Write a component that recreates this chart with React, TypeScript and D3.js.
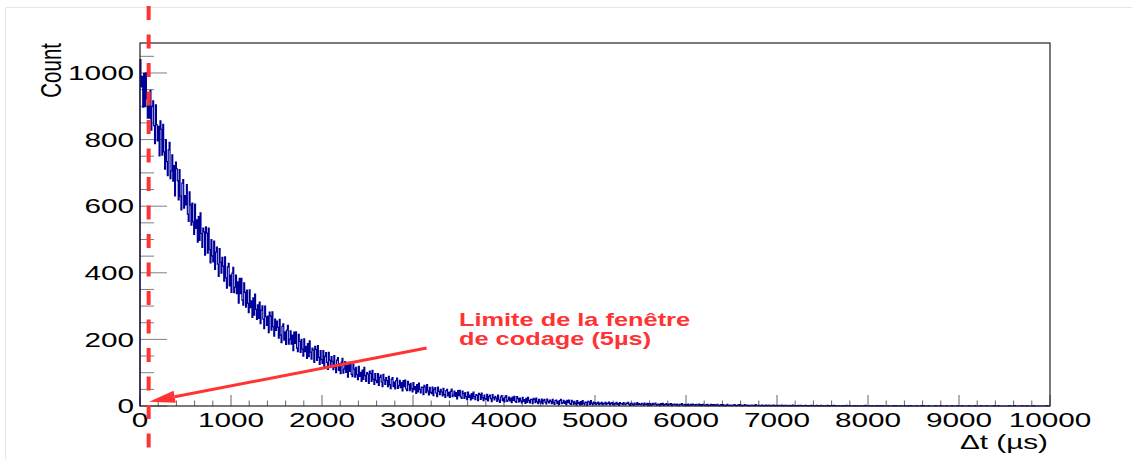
import React from 'react';
import * as d3 from 'd3';

const BIN_WIDTH = 10; // µs per bin
const X_MAX = 10000;
const Y_MAX = 1090;

// Counts per 10 µs bin (0 .. 10000 µs), one row = 100 µs
const counts: number[] = [
  1040, 958, 990, 897, 999, 899, 1000, 922, 864, 940,
  864, 948, 828, 899, 916, 842, 788, 904, 844, 796,
  840, 751, 856, 831, 753, 846, 763, 711, 799, 734,
  692, 769, 792, 683, 706, 754, 675, 722, 631, 732,
  712, 677, 619, 710, 630, 589, 669, 680, 594, 632,
  604, 665, 576, 554, 643, 604, 543, 609, 553, 515,
  606, 533, 559, 492, 569, 497, 580, 518, 476, 534,
  523, 453, 538, 519, 459, 534, 470, 430, 500, 451,
  433, 495, 410, 462, 477, 426, 389, 473, 432, 399,
  446, 420, 375, 448, 385, 354, 418, 428, 361, 393,
  341, 399, 416, 340, 357, 393, 337, 373, 309, 383,
  337, 383, 318, 303, 370, 341, 297, 348, 308, 280,
  349, 295, 316, 266, 325, 273, 336, 290, 260, 304,
  263, 312, 247, 288, 301, 261, 232, 300, 268, 242,
  270, 220, 282, 270, 228, 283, 238, 210, 261, 227,
  255, 236, 204, 260, 213, 190, 239, 247, 198, 223,
  185, 228, 242, 186, 200, 226, 186, 213, 166, 222,
  188, 223, 174, 163, 215, 194, 161, 200, 171, 150,
  202, 163, 179, 143, 187, 148, 196, 162, 141, 174,
  168, 131, 179, 170, 137, 181, 146, 125, 166, 139,
  128, 166, 118, 149, 160, 131, 110, 161, 138, 120,
  148, 134, 109, 151, 117, 100, 138, 145, 107, 127,
  97, 132, 143, 99, 111, 133, 101, 123, 87, 131,
  104, 131, 95, 88, 126, 111, 87, 116, 94, 79,
  119, 89, 101, 74, 108, 80, 116, 91, 74, 100,
  96, 68, 105, 98, 74, 107, 81, 65, 97, 77,
  70, 97, 62, 86, 93, 72, 58, 95, 78, 65,
  85, 76, 58, 89, 64, 52, 80, 85, 58, 72,
  51, 76, 84, 53, 61, 77, 55, 70, 45, 76,
  58, 78, 51, 46, 74, 64, 46, 68, 52, 42,
  70, 49, 58, 38, 64, 42, 69, 50, 39, 57,
  56, 34, 62, 57, 40, 64, 45, 33, 56, 41,
  37, 57, 31, 50, 55, 39, 28, 57, 44, 34,
  50, 42, 30, 53, 34, 26, 46, 50, 30, 41,
  26, 44, 51, 28, 33, 45, 29, 40, 21, 46,
  31, 47, 27, 23, 45, 37, 23, 40, 28, 19,
  42, 26, 33, 18, 37, 22, 42, 28, 19, 34,
  32, 16, 38, 34, 20, 39, 25, 16, 33, 22,
  19, 35, 15, 28, 33, 22, 13, 34, 25, 18,
  29, 24, 14, 33, 18, 11, 27, 31, 16, 23,
  12, 26, 31, 14, 18, 27, 15, 24, 10, 27,
  17, 29, 14, 11, 28, 22, 12, 24, 15, 9,
  26, 14, 19, 8, 23, 11, 26, 16, 9, 20,
  19, 7, 23, 20, 10, 24, 13, 7, 20, 12,
  9, 21, 6, 17, 20, 11, 6, 21, 14, 9,
  18, 14, 7, 20, 10, 5, 16, 18, 7, 14,
  5, 16, 20, 7, 10, 17, 8, 14, 3, 17,
  10, 18, 7, 5, 17, 12, 5, 14, 8, 3,
  16, 7, 11, 3, 13, 4, 16, 8, 3, 12,
  11, 2, 14, 12, 5, 16, 8, 3, 12, 7,
  10, 5, 8, 12, 4, 9, 6, 11, 3, 8,
  6, 11, 4, 9, 7, 12, 3, 8, 10, 5,
  9, 3, 7, 11, 5, 8, 2, 10, 6, 7,
  4, 10, 6, 3, 9, 7, 11, 5, 2, 8,
  8, 5, 2, 9, 6, 3, 10, 4, 7, 5,
  3, 8, 6, 2, 9, 5, 4, 8, 1, 7,
  7, 2, 5, 8, 3, 6, 9, 4, 2, 6,
  5, 1, 7, 4, 8, 2, 5, 3, 7, 4,
  2, 6, 4, 7, 1, 5, 3, 6, 4, 2,
  6, 3, 1, 5, 4, 7, 2, 3, 5, 1,
  4, 2, 6, 1, 3, 5, 2, 6, 3, 4,
  1, 5, 3, 2, 6, 2, 4, 1, 5, 3,
  3, 1, 4, 5, 0, 3, 2, 5, 1, 4,
  2, 4, 1, 3, 5, 2, 0, 3, 4, 1,
  4, 1, 3, 0, 2, 5, 2, 1, 3, 2,
  1, 3, 2, 4, 1, 0, 3, 2, 4, 1,
  3, 0, 2, 1, 4, 2, 1, 3, 0, 2,
  0, 2, 3, 1, 2, 0, 4, 1, 2, 1,
  2, 1, 0, 3, 1, 2, 0, 2, 3, 0,
  1, 3, 1, 0, 2, 1, 3, 0, 1, 2,
  0, 1, 2, 1, 0, 3, 1, 0, 2, 1,
  2, 0, 1, 0, 2, 1, 0, 3, 1, 0,
  1, 1, 0, 2, 0, 1, 2, 0, 1, 1,
  0, 2, 1, 0, 1, 0, 1, 2, 0, 1,
  1, 0, 0, 2, 1, 0, 1, 0, 2, 0,
  0, 1, 1, 0, 0, 2, 0, 1, 0, 1,
  1, 0, 2, 0, 1, 0, 0, 1, 1, 0,
  0, 1, 0, 1, 0, 0, 2, 0, 0, 1,
  1, 0, 0, 0, 1, 1, 0, 0, 1, 0,
  0, 0, 1, 0, 0, 1, 0, 2, 0, 0,
  0, 1, 0, 0, 1, 0, 0, 0, 1, 0,
  1, 0, 0, 1, 0, 0, 1, 0, 0, 0,
  0, 0, 1, 0, 0, 0, 0, 1, 0, 1,
  0, 1, 0, 0, 0, 1, 0, 0, 0, 0,
  1, 0, 0, 0, 1, 0, 0, 1, 0, 0,
  0, 0, 0, 1, 0, 0, 0, 0, 1, 0,
  0, 1, 0, 0, 0, 0, 1, 0, 0, 0,
  0, 0, 0, 0, 1, 0, 0, 0, 0, 1,
  1, 0, 0, 0, 0, 0, 1, 0, 0, 0,
  0, 0, 1, 0, 0, 0, 0, 0, 1, 0,
  0, 0, 0, 1, 0, 0, 0, 0, 0, 0,
  0, 1, 0, 0, 0, 0, 0, 1, 0, 0,
  0, 0, 0, 0, 1, 0, 0, 0, 0, 0,
  1, 0, 0, 0, 0, 0, 0, 0, 1, 0,
  0, 0, 0, 1, 0, 0, 0, 0, 0, 0,
  0, 0, 0, 0, 0, 1, 0, 0, 0, 0,
  0, 1, 0, 0, 0, 0, 0, 0, 0, 1,
  0, 0, 0, 0, 1, 0, 0, 0, 0, 0,
  0, 0, 1, 0, 0, 0, 0, 0, 0, 0,
  0, 0, 0, 0, 0, 0, 1, 0, 0, 0,
];

const xTickValues = [0, 1000, 2000, 3000, 4000, 5000, 6000, 7000, 8000, 9000, 10000];
const yTickValues = [0, 200, 400, 600, 800, 1000];
const xTitle = 'Δt (µs)';
const yTitle = 'Count';
const noteLines = ['Limite de la fenêtre', 'de codage (5µs)'];
const limitX = 95; // dashed marker position (µs)
const arrowFrom: [number, number] = [3150, 174];
const arrowTo: [number, number] = [100, 13];
const notePos: [number, number] = [3505, 240];

const SX = 1.45; // horizontal stretch of the original rendering
const FONT = '"Liberation Sans", Arial, Helvetica, sans-serif';
const RED = '#ff3333';
const NAVY = '#000099';

function SText({ x, y, anchor = 'start', size = 20.5, weight = 'normal', fill = '#000', children }: any) {
  return (
    <g transform={`translate(${x},${y}) scale(${SX},1)`}>
      <text x={0} y={0} textAnchor={anchor} fontSize={size} fontWeight={weight} fill={fill} fontFamily={FONT}>
        {children}
      </text>
    </g>
  );
}

export default function App() {
  const W = 1132;
  const H = 459;
  const m = { left: 140, right: 1050, top: 43, bottom: 406 };
  const x = d3.scaleLinear().domain([0, X_MAX]).range([m.left, m.right]);
  const y = d3.scaleLinear().domain([0, Y_MAX]).range([m.bottom, m.top]);

  const pts: [number, number][] = [[0, 0], ...counts.map((c, i) => [i * BIN_WIDTH, c] as [number, number]), [X_MAX, 0]];
  const line = d3
    .line<[number, number]>()
    .x((d) => x(d[0]))
    .y((d) => y(d[1]))
    .curve(d3.curveStepAfter);

  const xMinor = x.ticks(50);
  const yMinor = y.ticks(22);

  // arrow
  const ax1 = x(arrowFrom[0]), ay1 = y(arrowFrom[1]);
  const ax2 = x(arrowTo[0]), ay2 = y(arrowTo[1]);
  const ang = Math.atan2(ay2 - ay1, ax2 - ax1);
  const headLen = 26, headHalf = 6;
  const bx = ax2 - headLen * Math.cos(ang), by = ay2 - headLen * Math.sin(ang);
  const head = [
    [ax2, ay2],
    [bx + headHalf * Math.sin(ang), by - headHalf * Math.cos(ang)],
    [bx - headHalf * Math.sin(ang), by + headHalf * Math.cos(ang)],
  ];

  const lx = x(limitX);

  return (
    <svg width={W} height={H} style={{ position: 'absolute', left: 0, top: 0, background: '#fff' }}>
      <rect x={0} y={0} width={W} height={H} fill="#fff" />
      {/* outer faint border */}
      <path d={`M5.5,${H} V7.5 H${W}`} fill="none" stroke="#e6e6e6" strokeWidth={1} />

      {/* y ticks */}
      {yMinor.map((v) => {
        const major = yTickValues.includes(v);
        return (
          <line key={'yt' + v} x1={m.left} x2={m.left + (major ? 27 : 14)} y1={y(v)} y2={y(v)} stroke="#808080" strokeWidth={1} />
        );
      })}
      {/* x ticks */}
      {xMinor.map((v) => {
        const major = xTickValues.includes(v);
        return (
          <line key={'xt' + v} x1={x(v)} x2={x(v)} y1={m.bottom} y2={m.bottom - (major ? 11 : 5.5)} stroke="#666" strokeWidth={1} />
        );
      })}

      {/* histogram */}
      <path d={line(pts) || ''} fill="none" stroke={NAVY} strokeWidth={1.2} />

      {/* frame */}
      <rect x={m.left} y={m.top} width={m.right - m.left} height={m.bottom - m.top} fill="none" stroke="#222" strokeWidth={1.2} />

      {/* y labels */}
      {yTickValues.map((v) => (
        <SText key={'yl' + v} x={134} y={y(v) + 7.3} anchor="end">
          {String(v)}
        </SText>
      ))}
      {/* x labels */}
      {xTickValues.map((v) => (
        <SText key={'xl' + v} x={x(v)} y={427} anchor="middle">
          {String(v)}
        </SText>
      ))}
      {/* axis titles */}
      <SText x={1048} y={449} anchor="end">
        {xTitle}
      </SText>
      <g transform={`translate(61,${m.top}) scale(${SX},1) rotate(-90)`}>
        <text x={0} y={0} textAnchor="end" fontSize={20.5} fontFamily={FONT} fill="#000">
          {yTitle}
        </text>
      </g>

      {/* dashed limit line */}
      <line x1={lx} x2={lx} y1={6} y2={H} stroke={RED} strokeWidth={4} strokeDasharray="14 14.5" />

      {/* arrow */}
      <line x1={ax1} y1={ay1} x2={bx} y2={by} stroke={RED} strokeWidth={3} />
      <polygon points={head.map((p) => p.join(',')).join(' ')} fill={RED} />

      {/* annotation */}
      {noteLines.map((t, i) => (
        <SText key={'n' + i} x={x(notePos[0])} y={y(notePos[1]) + i * 19} size={17.5} weight="bold" fill={RED}>
          {t}
        </SText>
      ))}
    </svg>
  );
}
